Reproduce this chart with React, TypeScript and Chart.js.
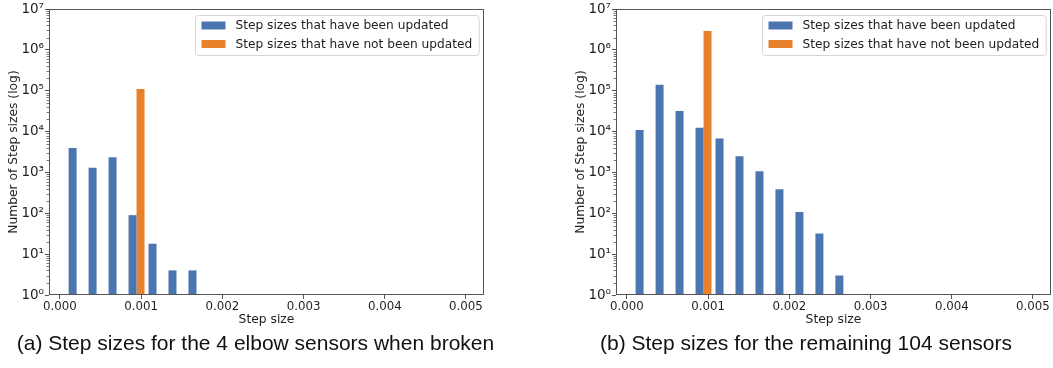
import { useEffect, useRef } from "react";
import { Chart, registerables } from "chart.js";

Chart.register(...registerables);

// Histogram bin centres (step size)
const BIN_CENTERS = [
  0.000205, 0.000451, 0.000697, 0.000943, 0.001189, 0.001435, 0.001681,
  0.001927, 0.002173, 0.002419, 0.002665, 0.002911, 0.003157, 0.003403,
  0.003649, 0.003895, 0.004141, 0.004387, 0.004633, 0.004879,
];

// (a) the 4 elbow sensors when broken
const ELBOW_UPDATED = [
  4000, 1300, 2350, 90, 18, 4, 4, null, null, null,
  null, null, null, null, null, null, null, null, null, null,
];
const ELBOW_NOT_UPDATED = [
  null, null, null, 110000, null, null, null, null, null, null,
  null, null, null, null, null, null, null, null, null, null,
];

// (b) the remaining 104 sensors
const OTHER_UPDATED = [
  11000, 140000, 32000, 12500, 6800, 2500, 1070, 390, 108, 32,
  3, null, null, null, null, null, null, null, null, null,
];
const OTHER_NOT_UPDATED = [
  null, null, null, 2900000, null, null, null, null, null, null,
  null, null, null, null, null, null, null, null, null, null,
];

const SERIES_LABELS = [
  "Step sizes that have been updated",
  "Step sizes that have not been updated",
];

const X_TICKS = [0, 0.001, 0.002, 0.003, 0.004, 0.005];
const X_TICK_LABELS = ["0.000", "0.001", "0.002", "0.003", "0.004", "0.005"];
const Y_TICKS = [1, 10, 100, 1e3, 1e4, 1e5, 1e6, 1e7];
const Y_TICK_LABELS = ["10⁰", "10¹", "10²", "10³", "10⁴", "10⁵", "10⁶", "10⁷"];

const X_MIN = -0.000135;
const X_MAX = 0.005222;

const BLUE = "#4a75b1";
const ORANGE = "#e7812b";
const AXIS_COLOR = "#555555";
const TEXT_COLOR = "#1e1e1e";
const FONT = "'DejaVu Sans', sans-serif";

const CAPTIONS = [
  "(a) Step sizes for the 4 elbow sensors when broken",
  "(b) Step sizes for the remaining 104 sensors",
];

// Draws the box frame, log minor ticks and the boxed legend in the upper right.
const framePlugin = {
  id: "frameAndLegend",
  afterDraw(chart: any) {
    const { ctx, chartArea: a } = chart;
    const yScale = chart.scales.y;
    ctx.save();
    ctx.strokeStyle = AXIS_COLOR;

    // minor ticks of the log axis
    ctx.lineWidth = 0.8;
    for (let d = 0; d < 7; d++) {
      for (let m = 2; m <= 9; m++) {
        const py = Math.round(yScale.getPixelForValue(m * Math.pow(10, d))) + 0.5;
        ctx.beginPath();
        ctx.moveTo(a.left - 2.5, py);
        ctx.lineTo(a.left, py);
        ctx.stroke();
      }
    }

    // frame
    ctx.lineWidth = 1;
    const l = Math.round(a.left) + 0.5;
    const t = Math.round(a.top) + 0.5;
    const r = Math.round(a.right) - 0.5;
    const b = Math.round(a.bottom) - 0.5;
    ctx.strokeRect(l, t, r - l, b - t);

    // legend
    const ds = chart.data.datasets;
    ctx.font = `12.2px ${FONT}`;
    let maxW = 0;
    ds.forEach((d: any) => {
      maxW = Math.max(maxW, ctx.measureText(d.label).width);
    });
    const padL = 6, patchW = 24, gap = 10, padR = 7;
    const boxW = padL + patchW + gap + maxW + padR;
    const boxH = 40;
    const bx = Math.round(a.right - 5 - boxW) + 0.5;
    const by = Math.round(a.top + 6) + 0.5;
    const rad = 3;
    ctx.beginPath();
    ctx.moveTo(bx + rad, by);
    ctx.lineTo(bx + boxW - rad, by);
    ctx.arcTo(bx + boxW, by, bx + boxW, by + rad, rad);
    ctx.lineTo(bx + boxW, by + boxH - rad);
    ctx.arcTo(bx + boxW, by + boxH, bx + boxW - rad, by + boxH, rad);
    ctx.lineTo(bx + rad, by + boxH);
    ctx.arcTo(bx, by + boxH, bx, by + boxH - rad, rad);
    ctx.lineTo(bx, by + rad);
    ctx.arcTo(bx, by, bx + rad, by, rad);
    ctx.closePath();
    ctx.fillStyle = "rgba(255,255,255,0.85)";
    ctx.fill();
    ctx.strokeStyle = "#d6d6d6";
    ctx.stroke();

    ds.forEach((d: any, i: number) => {
      const cy = by + 10 + i * 18.5;
      ctx.fillStyle = d.backgroundColor;
      ctx.fillRect(bx + padL, cy - 4, patchW, 8);
      ctx.fillStyle = TEXT_COLOR;
      ctx.textBaseline = "middle";
      ctx.textAlign = "left";
      ctx.fillText(d.label, bx + padL + patchW + gap, cy + 0.5);
    });
    ctx.restore();
  },
};

function HistChart({ updated, notUpdated }: { updated: (number | null)[]; notUpdated: (number | null)[] }) {
  const ref = useRef<HTMLCanvasElement | null>(null);
  useEffect(() => {
    if (!ref.current) return;
    const chart = new Chart(ref.current, {
      type: "bar",
      data: {
        datasets: [
          {
            label: SERIES_LABELS[0],
            data: BIN_CENTERS.map((x, i) => ({ x, y: updated[i] })) as any,
            backgroundColor: BLUE,
            borderWidth: 0,
          },
          {
            label: SERIES_LABELS[1],
            data: BIN_CENTERS.map((x, i) => ({ x, y: notUpdated[i] })) as any,
            backgroundColor: ORANGE,
            borderWidth: 0,
          },
        ],
      },
      options: {
        responsive: false,
        animation: false,
        events: [],
        layout: { padding: { left: 0, right: 2, top: 7, bottom: 10 } },
        datasets: { bar: { categoryPercentage: 0.8, barPercentage: 1.0 } },
        plugins: { legend: { display: false }, tooltip: { enabled: false } },
        scales: {
          x: {
            type: "linear",
            min: X_MIN,
            max: X_MAX,
            offset: false,
            afterBuildTicks: (s: any) => {
              s.ticks = X_TICKS.map((v) => ({ value: v }));
            },
            afterFit: (s: any) => {
              s.height = 35;
            },
            grid: {
              offset: false,
              drawOnChartArea: false,
              drawTicks: true,
              tickLength: 4,
              color: AXIS_COLOR,
            },
            border: { display: false },
            ticks: {
              padding: 1,
              maxRotation: 0,
              autoSkip: false,
              color: TEXT_COLOR,
              font: { family: FONT, size: 11.8 },
              callback: (_v: any, i: number) => X_TICK_LABELS[i],
            },
            title: {
              display: true,
              text: "Step size",
              color: TEXT_COLOR,
              font: { family: FONT, size: 12.3 },
              padding: { top: 0, bottom: 3 },
            },
          },
          y: {
            type: "logarithmic",
            min: 1,
            max: 1e7,
            afterBuildTicks: (s: any) => {
              s.ticks = Y_TICKS.map((v) => ({ value: v }));
            },
            afterFit: (s: any) => {
              s.width = 49;
            },
            grid: {
              drawOnChartArea: false,
              drawTicks: true,
              tickLength: 4,
              color: AXIS_COLOR,
            },
            border: { display: false },
            ticks: {
              padding: 1,
              autoSkip: false,
              color: TEXT_COLOR,
              font: { family: FONT, size: 13.5 },
              callback: (_v: any, i: number) => Y_TICK_LABELS[i],
            },
            title: {
              display: true,
              text: "Number of Step sizes (log)",
              color: TEXT_COLOR,
              font: { family: FONT, size: 12.3 },
              padding: { top: 6, bottom: 0 },
            },
          },
        },
      } as any,
      plugins: [framePlugin],
    });
    return () => chart.destroy();
  }, [updated, notUpdated]);
  return <canvas ref={ref} width={486} height={340} style={{ display: "block" }} />;
}

export default function App() {
  const captionStyle = (center: number): React.CSSProperties => ({
    position: "absolute",
    left: center - 300,
    width: 600,
    top: 331,
    textAlign: "center",
    fontFamily: "'Liberation Sans', Arial, sans-serif",
    fontSize: 21,
    lineHeight: "24px",
    color: "#111",
    whiteSpace: "nowrap",
  });
  return (
    <div style={{ position: "fixed", left: 0, top: 0, width: 1053, height: 368, background: "#fff", overflow: "hidden" }}>
      <div style={{ position: "absolute", left: 0, top: 0 }}>
        <HistChart updated={ELBOW_UPDATED} notUpdated={ELBOW_NOT_UPDATED} />
      </div>
      <div style={{ position: "absolute", left: 567, top: 0 }}>
        <HistChart updated={OTHER_UPDATED} notUpdated={OTHER_NOT_UPDATED} />
      </div>
      <div style={captionStyle(255.5)}>{CAPTIONS[0]}</div>
      <div style={captionStyle(806)}>{CAPTIONS[1]}</div>
    </div>
  );
}
